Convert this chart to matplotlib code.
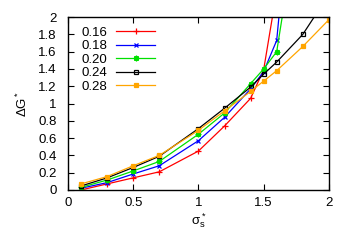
import matplotlib
matplotlib.use('Agg')
import matplotlib.pyplot as plt
from matplotlib.ticker import MultipleLocator, FuncFormatter

plt.rcParams['font.family'] = ['Liberation Sans', 'DejaVu Sans']
plt.rcParams['mathtext.fontset'] = 'custom'
plt.rcParams['mathtext.rm'] = 'Liberation Sans'
plt.rcParams['mathtext.it'] = 'Liberation Sans'

# sigma_s* values shared by all series (series stop where they leave the plot)
sigma = [0.1, 0.3, 0.5, 0.7, 1.0, 1.2, 1.4, 1.5, 1.6, 1.8, 2.0]

labels = ['0.16', '0.18', '0.20', '0.24', '0.28']
g_016 = [0.00, 0.07, 0.14, 0.21, 0.45, 0.74, 1.06, 1.39, 2.30]
g_018 = [0.02, 0.085, 0.185, 0.28, 0.57, 0.84, 1.17, 1.37, 1.73, 4.90]
g_020 = [0.03, 0.115, 0.22, 0.33, 0.645, 0.89, 1.23, 1.40, 1.60, 3.50]
g_024 = [0.046, 0.14, 0.26, 0.39, 0.71, 0.945, 1.19, 1.34, 1.48, 1.80, 2.26]
g_028 = [0.07, 0.155, 0.28, 0.40, 0.69, 0.915, 1.14, 1.26, 1.38, 1.66, 1.97]

series = [g_016, g_018, g_020, g_024, g_028]
colors = ['#ff0000', '#0000ff', '#00e000', '#000000', '#ffa500']
markers = ['+', 'x', (8, 2, 0), 's', 's']
faces = ['#ff0000', '#0000ff', '#00e000', 'none', '#ffa500']
msizes = [4, 3.5, 4, 3.2, 3.2]

fig = plt.figure(figsize=(3.54, 2.48), dpi=100)
ax = fig.add_axes([0.192, 0.234, 0.737, 0.697])

for y, lab, c, m, fc, ms in zip(series, labels, colors, markers, faces, msizes):
    ax.plot(sigma[:len(y)], y, color=c, lw=0.9, marker=m, ms=ms,
            mfc=fc, mec=c, mew=0.9, label=lab)

ax.set_xlim(0, 2)
ax.set_ylim(0, 2)
ax.xaxis.set_major_locator(MultipleLocator(0.5))
ax.yaxis.set_major_locator(MultipleLocator(0.2))
fmt = FuncFormatter(lambda v, p: '%g' % round(v, 3))
ax.xaxis.set_major_formatter(fmt)
ax.yaxis.set_major_formatter(fmt)
ax.tick_params(direction='in', length=4, width=0.8, top=True, right=True,
               labelsize=9.5, pad=5)
ax.tick_params(axis='y', pad=8)
for s in ax.spines.values():
    s.set_linewidth(1.0)

ax.set_xlabel(r'$\sigma^*_s$', fontsize=9.5, labelpad=2)
ax.set_ylabel(r'$\Delta$G$^*$', fontsize=9.5, labelpad=6)

ax.legend(loc='upper left', bbox_to_anchor=(0.015, 1.0), frameon=False,
          markerfirst=False, fontsize=9.5, handlelength=2.95,
          labelspacing=0.1, handletextpad=0.7, borderaxespad=0.3)

plt.savefig('out.png', dpi=100)
